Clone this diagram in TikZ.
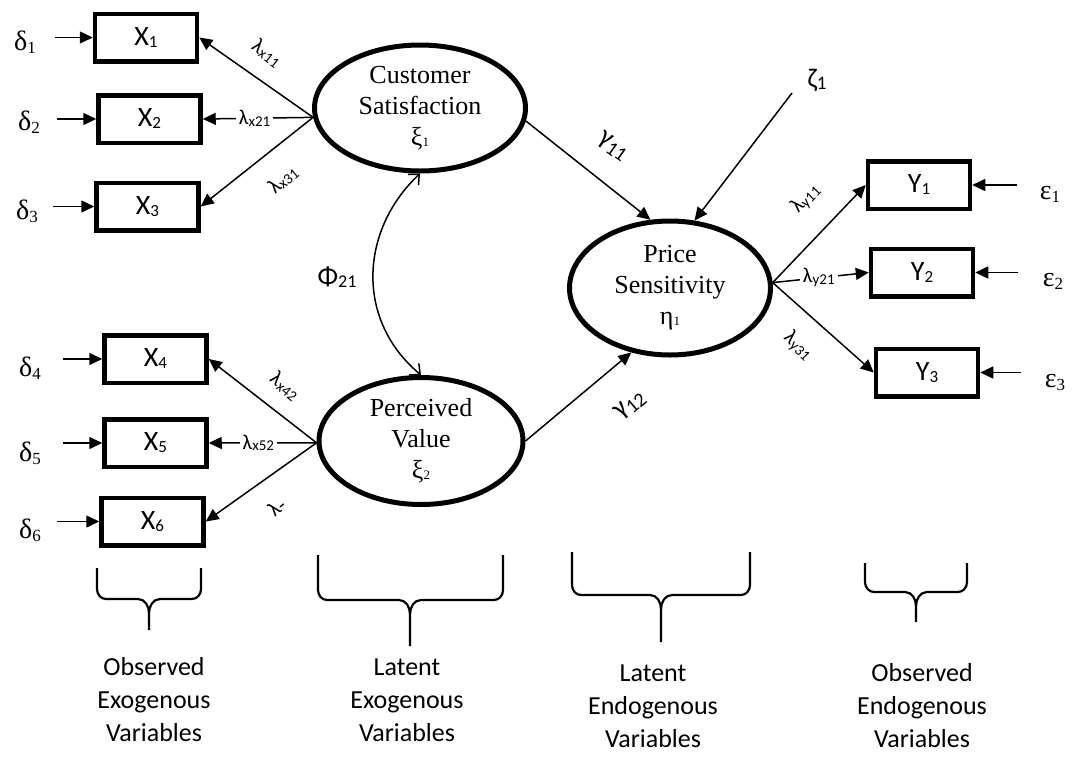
\documentclass[tikz,border=0pt]{standalone}
\usepackage{fontspec}
\setmainfont{Liberation Serif}
\newfontfamily\cbr{Carlito}
\usetikzlibrary{arrows.meta,shapes.geometric,calc}
\newcommand\sbx[1]{\raisebox{-2pt}{\fontsize{17}{17}\selectfont #1}}
\newcommand\sbs[1]{\raisebox{-3pt}{\fontsize{17}{17}\selectfont #1}}
\newcommand\sbg[1]{\raisebox{-1pt}{\fontsize{13}{13}\selectfont #1}}
\newcommand\lm[1]{{\cbr\fontsize{21}{21}\selectfont λ\raisebox{-1.5pt}{\fontsize{15}{15}\selectfont #1}}}
\newcommand\brc[6]{%
  \draw[brace] (#1,#4) -- (#1,{#5-10}) to[out=-90,in=180] ({#1+9},#5) -- ({#3-11},#5) to[out=0,in=90] (#3,{#5+14}) -- (#3,#6);
  \draw[brace] (#3,{#5+14}) to[out=90,in=180] ({#3+11},#5) -- ({#2-9},#5) to[out=0,in=-90] (#2,{#5-10}) -- (#2,#4);}
\tikzset{
  obs/.style={draw, line width=4.5pt, minimum width=102pt, minimum height=47.5pt, inner sep=0pt,
    font=\cbr\fontsize{28}{30}\selectfont},
  lat/.style={draw, ellipse, line width=5pt, inner sep=0pt, align=center,
    font=\fontsize{26}{31}\selectfont},
  arr/.style={line width=1.5pt, -{Triangle[length=13pt,width=12pt]}},
  phi/.style={line width=1.5pt, {Straight Barb[length=8pt,width=15pt,line width=1.5pt]}-{Straight Barb[length=8pt,width=15pt,line width=1.5pt]}},
  err/.style={inner sep=1pt, font=\fontsize{28}{30}\selectfont},
  lab/.style={inner sep=1pt},
  midlab/.style={fill=white, inner sep=3pt},
  gam/.style={inner sep=1pt, font=\cbr\fontsize{27}{27}\selectfont},
  brace/.style={line width=2.2pt},
  capt/.style={align=center, font=\cbr\fontsize{26}{33}\selectfont}
}
\begin{document}
\begin{tikzpicture}[x=1pt,y=-1pt]
\useasboundingbox (0,0) rectangle (1078,761);
% observed exogenous
\node[obs] (x1) at (146,37.5) {X\sbx{1}};
\node[obs] (x2) at (149.5,119) {X\sbx{2}};
\node[obs] (x3) at (147.5,206.5) {X\sbx{3}};
\node[obs] (x4) at (155.5,359) {X\sbx{4}};
\node[obs] (x5) at (155.5,443) {X\sbx{5}};
\node[obs] (x6) at (152.5,521.5) {X\sbx{6}};
% observed endogenous
\node[obs] (y1) at (919,185) {Y\sbx{1}};
\node[obs] (y2) at (922,272.5) {Y\sbx{2}};
\node[obs] (y3) at (927,372.5) {Y\sbx{3}};
% latent
\node[lat, minimum width=211pt, minimum height=126pt] (cs) at (420,108) {Customer\\Satisfaction\\ξ\sbg{1}};
\node[lat, minimum width=204pt, minimum height=127pt] (pv) at (421,441) {Perceived\\Value\\ξ\sbg{2}};
\node[lat, minimum width=201pt, minimum height=134pt] (ps) at (670,288) {Price\\Sensitivity\\η\sbg{1}};
% errors
\node[err] (d1) at (25,42) {δ\sbs{1}};
\node[err] (d2) at (29,122) {δ\sbs{2}};
\node[err] (d3) at (27,211) {δ\sbs{3}};
\node[err] (d4) at (30,368) {δ\sbs{4}};
\node[err] (d5) at (30,453) {δ\sbs{5}};
\node[err] (d6) at (30,530) {δ\sbs{6}};
\node[err] (e1) at (1050,194) {ε\sbs{1}};
\node[err] (e2) at (1053,281) {ε\sbs{2}};
\node[err] (e3) at (1055,382) {ε\sbs{3}};
\node[gam] (z1) at (817,80) {ζ\raisebox{-2pt}{\fontsize{19}{19}\selectfont 1}};
\coordinate (zs) at (792,93);
% error arrows
\foreach \d/\x/\s in {d1/x1/55, d2/x2/57, d3/x3/53, d4/x4/63, d5/x5/63, d6/x6/57}
  \draw[arr] (\s,0 |- \x.west) -- (\x.west);
\foreach \e/\y/\s in {e1/y1/1017, e2/y2/1018, e3/y3/1021}
  \draw[arr] (\s,0 |- \y.east) -- (\y.east);
% convergence points
\coordinate (csl) at (cs.185);
\coordinate (pvl) at (pv.181);
\coordinate (psr) at (ps.3);
% loadings
\draw[arr] (csl) -- (x1.east);
\draw[arr] (csl) -- node[midlab, pos=0.53, font=\cbr] (lx21) {\lm{x21}} (x2.east);
\draw[arr] (csl) -- (x3.east);
\draw[arr] (pvl) -- (x4.east);
\draw[arr] (pvl) -- node[midlab, pos=0.54, font=\cbr] (lx52) {\lm{x52}} (x5.east);
\draw[arr] (pvl) -- (x6.east);
\draw[arr] (psr) -- (y1.west);
\draw[arr] (psr) -- node[midlab, pos=0.48, font=\cbr] (ly21) {\lm{y21}} (y2.west);
\draw[arr] (psr) -- (y3.west);
\node[lab, rotate=-38] (lx11) at (267,53) {\lm{x11}};
\node[lab, rotate=40] (lx31) at (283,180) {\lm{x31}};
\node[lab, rotate=-40] (lx42) at (285,386) {\lm{x42}};
\node[lab, rotate=40] (lx62) at (277,507) {{\cbr\fontsize{21}{21}\selectfont λ\raisebox{-1.5pt}{-}}};
\node[lab, rotate=45] (ly11) at (806,199) {\lm{y11}};
\node[lab, rotate=-45] (ly31) at (798,346) {\lm{y31}};
% structural paths
\draw[arr] (cs.-7) -- (ps.106);
\draw[arr] (pv.east) -- (ps.239);
\draw[arr] (zs) -- (ps.70);
\node[gam, rotate=-35] (g11) at (613,146) {γ\raisebox{-5pt}{\fontsize{20}{20}\selectfont 11}};
\node[gam, rotate=40] (g12) at (630,405) {γ\raisebox{-5pt}{\fontsize{20}{20}\selectfont 12}};
% correlation
\draw[phi] (cs.south) .. controls (360,230) and (355,320) .. (pv.north);
\node[gam] (phi21) at (337,277) {Φ\raisebox{-2pt}{\fontsize{18}{18}\selectfont 21}};
% braces
\brc{97}{201}{149}{568}{599}{630}
\brc{318}{503}{410}{555}{600}{646}
\brc{572}{750}{661}{552}{595}{642}
\brc{865}{967}{916}{563}{592}{622}
% captions
\node[capt] (c1) at (154,700) {Observed\\Exogenous\\Variables};
\node[capt] (c2) at (407,700) {Latent\\Exogenous\\Variables};
\node[capt] (c3) at (653,706) {Latent\\Endogenous\\Variables};
\node[capt] (c4) at (922,706) {Observed\\Endogenous\\Variables};
\end{tikzpicture}
\end{document}
